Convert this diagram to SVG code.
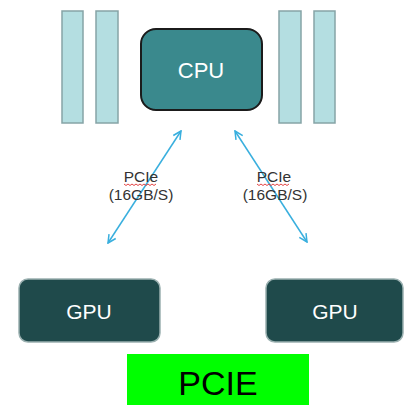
<svg xmlns="http://www.w3.org/2000/svg" width="404" height="405" viewBox="0 0 404 405">
<style>
.mem{fill:#b4dee1;stroke:#86a4a6;stroke-width:1.5}
.cpu{fill:#3a898d;stroke:#1b1b1b;stroke-width:2}
.gpu{fill:#1f4a4b;stroke:#9ab0b0;stroke-width:1.5}
.lt{fill:#ffffff;font-family:"Liberation Sans",Arial,sans-serif;text-anchor:middle}
.lbl{fill:#333333;font-family:"Liberation Sans",Arial,sans-serif;font-size:15.5px;text-anchor:middle}
.conn{stroke:#39afde;stroke-width:1.5;fill:none}
.sq{stroke:#e03030;stroke-width:0.9;fill:none}
</style>
<defs>
<marker id="ah" viewBox="0 0 10 10" refX="9" refY="5" markerWidth="10" markerHeight="10" markerUnits="userSpaceOnUse" orient="auto-start-reverse">
<polyline points="1,1 9,5 1,9" fill="none" stroke="#39afde" stroke-width="1.5"/>
</marker>
</defs>
<rect width="404" height="405" fill="#ffffff"/>
<g id="memory-left">
<rect class="mem" x="62" y="11" width="21" height="112"/>
<rect class="mem" x="96" y="11" width="22" height="112"/>
</g>
<g id="memory-right">
<rect class="mem" x="279" y="11" width="22" height="112"/>
<rect class="mem" x="314" y="11" width="21" height="112"/>
</g>
<g id="cpu">
<rect class="cpu" x="141" y="29" width="121" height="81" rx="15"/>
<text class="lt" x="201" y="78" font-size="22">CPU</text>
</g>
<g id="connectors">
<line class="conn" x1="108" y1="243" x2="181" y2="131" marker-start="url(#ah)" marker-end="url(#ah)"/>
<line class="conn" x1="307" y1="242" x2="235" y2="131" marker-start="url(#ah)" marker-end="url(#ah)"/>
<text class="lbl" x="141" y="182">PCIe</text>
<text class="lbl" x="141" y="200">(16GB/S)</text>
<text class="lbl" x="274" y="182">PCIe</text>
<text class="lbl" x="275" y="200">(16GB/S)</text>
<path class="sq" d="M124,184 l2,1.5 l2,-1.5 l2,1.5 l2,-1.5 l2,1.5 l2,-1.5 l2,1.5 l2,-1.5 l2,1.5 l2,-1.5 l2,1.5 l2,-1.5 l2,1.5 l2,-1.5 l2,1.5 l2,-1.5"/>
<path class="sq" d="M257,184 l2,1.5 l2,-1.5 l2,1.5 l2,-1.5 l2,1.5 l2,-1.5 l2,1.5 l2,-1.5 l2,1.5 l2,-1.5 l2,1.5 l2,-1.5 l2,1.5 l2,-1.5 l2,1.5 l2,-1.5"/>
</g>
<g id="gpu-left">
<rect class="gpu" x="19" y="279" width="141" height="63" rx="9"/>
<text class="lt" x="89" y="319" font-size="21">GPU</text>
</g>
<g id="gpu-right">
<rect class="gpu" x="266" y="279" width="137" height="63" rx="9"/>
<text class="lt" x="335" y="319" font-size="21">GPU</text>
</g>
<g id="pcie-title">
<rect x="127" y="354" width="182" height="51" fill="#00ff00"/>
<text x="218" y="395" font-size="34" font-family="Liberation Sans, Arial, sans-serif" text-anchor="middle" fill="#000000">PCIE</text>
</g>
</svg>
